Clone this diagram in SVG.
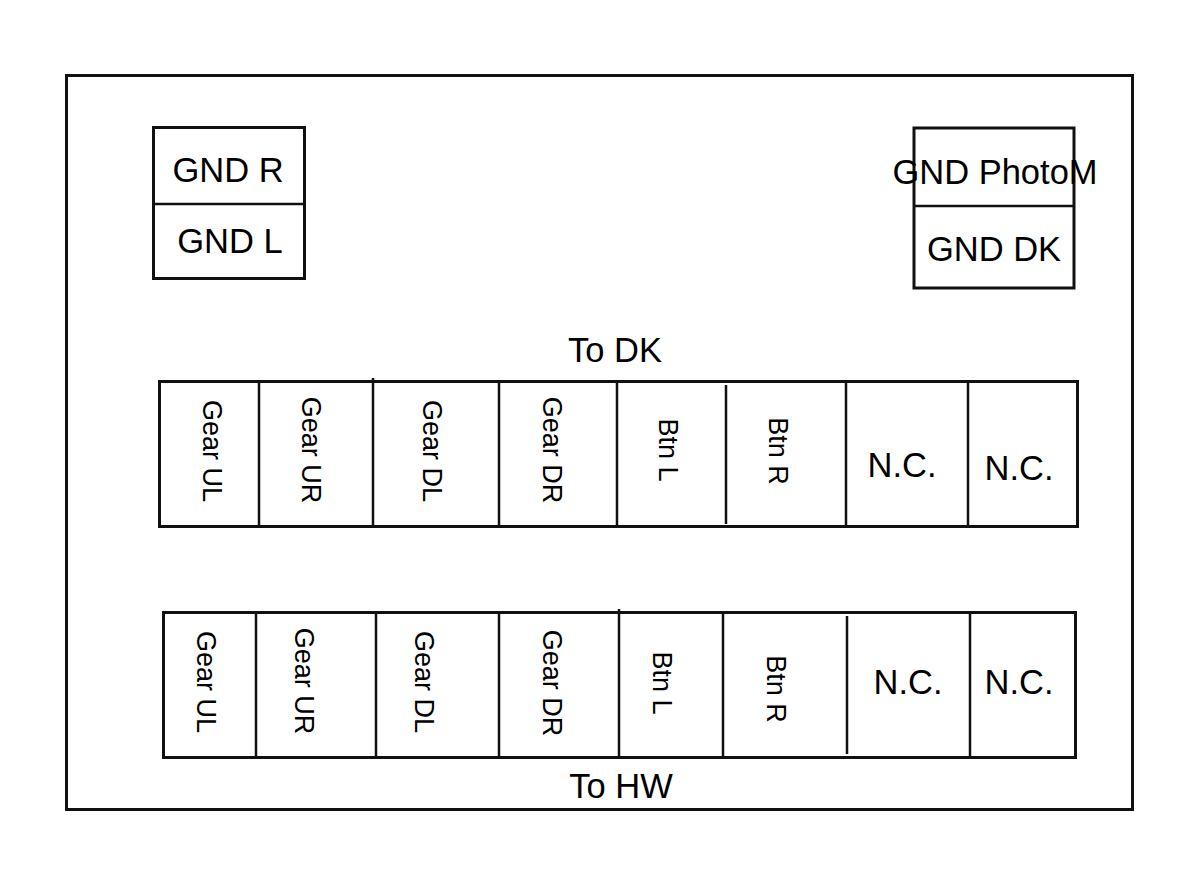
<svg xmlns="http://www.w3.org/2000/svg" width="1190" height="892" viewBox="0 0 1190 892">
<style>
  .box { fill: none; stroke: #111; stroke-width: 3; }
  .div { fill: none; stroke: #111; stroke-width: 2.5; }
  .t { font-family: "Liberation Sans", Arial, sans-serif; fill: #000; }
  .h { font-size: 34.5px; text-anchor: middle; }
  .v { font-size: 27px; text-anchor: middle; }
</style>
<rect width="1190" height="892" fill="#fff"/>
<g id="board">
  <rect class="box" x="66.5" y="75.5" width="1066" height="734"/>
</g>
<g id="gnd-left">
  <rect class="box" x="153.5" y="127.5" width="151" height="151"/>
  <line class="div" x1="153" y1="204" x2="305" y2="204"/>
  <text class="t h" x="228" y="182">GND R</text>
  <text class="t h" x="230" y="253">GND L</text>
</g>
<g id="gnd-right">
  <rect class="box" x="914" y="128" width="160" height="160"/>
  <line class="div" x1="914" y1="206" x2="1074" y2="206"/>
  <text class="t h" x="995" y="184">GND PhotoM</text>
  <text class="t h" x="994" y="261">GND DK</text>
</g>
<g id="to-dk">
  <text class="t h" x="615" y="362">To DK</text>
</g>
<g id="connector-dk">
  <rect class="box" x="159.5" y="381.5" width="918" height="145"/>
  <line class="div" x1="259" y1="382" x2="259" y2="527"/>
  <line class="div" x1="373" y1="378" x2="373" y2="527"/>
  <line class="div" x1="499" y1="382" x2="499" y2="527"/>
  <line class="div" x1="617" y1="382" x2="617" y2="527"/>
  <line class="div" x1="726" y1="385" x2="726" y2="524"/>
  <line class="div" x1="846" y1="382" x2="846" y2="527"/>
  <line class="div" x1="968" y1="382" x2="968" y2="527"/>
  <text class="t v" transform="translate(213 451) rotate(90)" y="9.7">Gear UL</text>
  <text class="t v" transform="translate(312 450) rotate(90)" y="9.7">Gear UR</text>
  <text class="t v" transform="translate(433 451) rotate(90)" y="9.7">Gear DL</text>
  <text class="t v" transform="translate(553 450) rotate(90)" y="9.7">Gear DR</text>
  <text class="t v" transform="translate(669 450) rotate(90)" y="9.7">Btn L</text>
  <text class="t v" transform="translate(779 451) rotate(90)" y="9.7">Btn R</text>
  <text class="t h" x="902" y="477">N.C.</text>
  <text class="t h" x="1019" y="480">N.C.</text>
</g>
<g id="connector-hw">
  <rect class="box" x="163.5" y="612.5" width="912" height="145"/>
  <line class="div" x1="256" y1="613" x2="256" y2="757"/>
  <line class="div" x1="376" y1="613" x2="376" y2="757"/>
  <line class="div" x1="499" y1="613" x2="499" y2="757"/>
  <line class="div" x1="619" y1="609" x2="619" y2="757"/>
  <line class="div" x1="723" y1="613" x2="723" y2="757"/>
  <line class="div" x1="847" y1="616" x2="847" y2="754"/>
  <line class="div" x1="970" y1="613" x2="970" y2="757"/>
  <text class="t v" transform="translate(207 682) rotate(90)" y="9.7">Gear UL</text>
  <text class="t v" transform="translate(305 681) rotate(90)" y="9.7">Gear UR</text>
  <text class="t v" transform="translate(425 682) rotate(90)" y="9.7">Gear DL</text>
  <text class="t v" transform="translate(553 683) rotate(90)" y="9.7">Gear DR</text>
  <text class="t v" transform="translate(663 683) rotate(90)" y="9.7">Btn L</text>
  <text class="t v" transform="translate(777 689) rotate(90)" y="9.7">Btn R</text>
  <text class="t h" x="908" y="694">N.C.</text>
  <text class="t h" x="1019" y="694">N.C.</text>
</g>
<g id="to-hw">
  <text class="t h" x="621" y="798">To HW</text>
</g>
<g id="connectors"></g>
</svg>
